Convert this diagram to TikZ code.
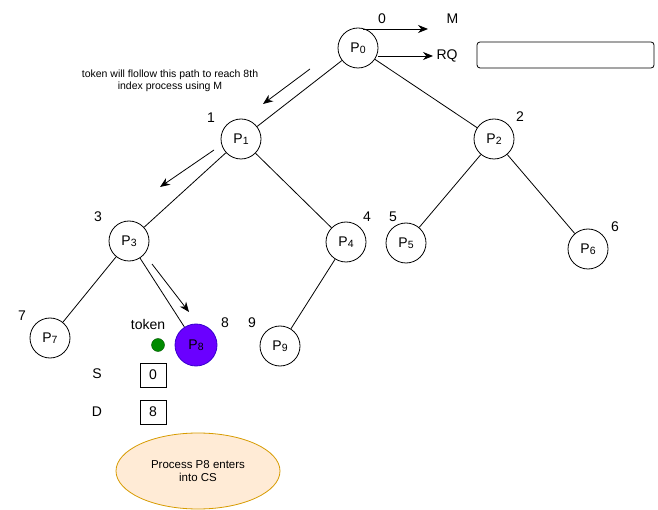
\documentclass[tikz,border=0pt]{standalone}
\usepackage{fontspec}
\setmainfont{Liberation Sans}
\usepackage{xcolor}
\usetikzlibrary{positioning, arrows.meta, shapes.geometric, calc}

\definecolor{csfill}{HTML}{FFE6CC}
\definecolor{csline}{HTML}{D79B00}
\definecolor{tokfill}{HTML}{008A00}
\definecolor{tokline}{HTML}{005700}
\definecolor{holdfill}{HTML}{6A00FF}
\definecolor{holdline}{HTML}{3700CC}

% process name with a small lowered index
\newcommand{\proc}[1]{P{\fontsize{10.5}{10}\selectfont\raisebox{-1.5pt}{#1}}}

\tikzset{
    proc/.style={circle, draw, thick, minimum size=40pt, inner sep=0pt, font=\fontsize{14}{16}\selectfont},
    idx/.style={font=\fontsize{14}{16}\selectfont},
    tree/.style={thick},
    hop/.style={thick, -{Stealth[length=10pt, width=8pt]}},
    reg/.style={draw, thick, minimum width=26pt, minimum height=24pt, inner sep=0pt, font=\fontsize{14}{16}\selectfont}
}

\begin{document}
\begin{tikzpicture}[x=1pt, y=-1pt]
        \useasboundingbox (0,0) rectangle (658,510);

        % processes arranged as a binary tree
        \node[proc] (p0) at (358, 48)  {\proc{0}};
        \node[proc] (p1) at (241, 139) {\proc{1}};
        \node[proc] (p2) at (494, 139) {\proc{2}};
        \node[proc] (p3) at (129, 241) {\proc{3}};
        \node[proc] (p4) at (346, 242) {\proc{4}};
        \node[proc] (p5) at (406, 243) {\proc{5}};
        \node[proc] (p6) at (588, 249) {\proc{6}};
        \node[proc] (p7) at (50, 338)  {\proc{7}};
        \node[proc, fill=holdfill, draw=holdline, minimum size=42pt] (p8) at (196, 345) {\proc{8}};
        \node[proc] (p9) at (280, 346) {\proc{9}};

        \draw[tree] (p0) -- (p1);
        \draw[tree] (p0) -- (p2);
        \draw[tree] (p1) -- (p3);
        \draw[tree] (p1) -- (p4);
        \draw[tree] (p2) -- (p5);
        \draw[tree] (p2) -- (p6);
        \draw[tree] (p3) -- (p7);
        \draw[tree] (p3) -- (p8);
        \draw[tree] (p4) -- (p9);

        % index of each process
        \node[idx] (i0) at (382, 19)  {0};
        \node[idx] (i1) at (211, 118) {1};
        \node[idx] (i2) at (520, 117) {2};
        \node[idx] (i3) at (98, 217)  {3};
        \node[idx] (i4) at (367, 217) {4};
        \node[idx] (i5) at (393, 217) {5};
        \node[idx] (i6) at (615, 227) {6};
        \node[idx] (i7) at (22, 316)  {7};
        \node[idx] (i8) at (225, 323) {8};
        \node[idx] (i9) at (252, 323) {9};

        % M and the request queue held by the root
        \node[idx, anchor=west] (m) at (443, 19) {M};
        \node[idx, anchor=west] (rq) at (433, 56) {RQ};
        \node[draw, thick, rounded corners=3pt, minimum width=177pt, minimum height=26pt] (queue) at (565.5, 55) {};
        \coordinate (mstart) at (363, 29);
        \coordinate (mend) at (428, 29);
        \draw[hop] (mstart) -- (mend);
        \draw[hop] (p0.east) ++(0, 8) -- (rq.west);

        % route taken by the token
        \node[font=\fontsize{10.5}{12.5}\selectfont, align=center] (note) at (170, 81) {token will flollow this path to reach 8th\\index process using M};
        \coordinate (a0) at (310, 69);
        \coordinate (a1) at (263, 104);
        \coordinate (b0) at (214, 150);
        \coordinate (b1) at (160, 187);
        \coordinate (c0) at (152, 264);
        \coordinate (c1) at (189, 312);
        \draw[hop] (a0) -- (a1);
        \draw[hop] (b0) -- (b1);
        \draw[hop] (c0) -- (c1);

        % token and its registers
        \node[idx] (toklabel) at (148, 324) {token};
        \node[circle, fill=tokfill, draw=tokline, minimum size=13pt, inner sep=0pt] (tok) at (158, 345) {};
        \node[idx] (slabel) at (97, 374) {S};
        \node[reg] (sreg) at (153, 375) {0};
        \node[idx] (dlabel) at (97, 412) {D};
        \node[reg] (dreg) at (153, 412) {8};

        \node[ellipse, draw=csline, fill=csfill!80, thick, minimum width=164pt, minimum height=76pt, align=center,
              font=\fontsize{11.5}{13.5}\selectfont] (cs) at (198, 471) {Process P8 enters\\into CS};
    \end{tikzpicture}
\end{document}
